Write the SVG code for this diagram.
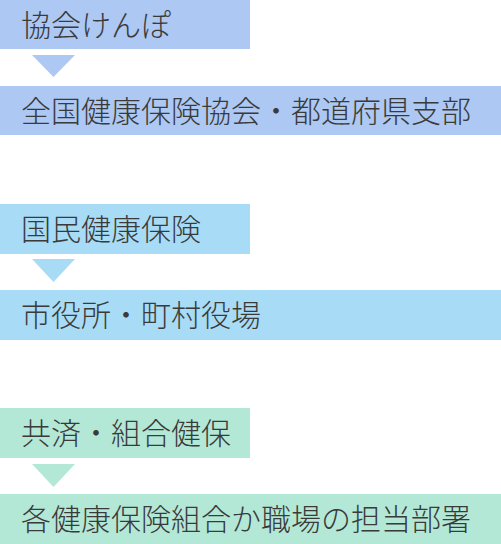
<svg xmlns="http://www.w3.org/2000/svg" width="501" height="544" viewBox="0 0 501 544">
<style>
.t{font-family:"Noto Sans CJK JP","Noto Sans CJK SC",sans-serif;font-size:30px;font-weight:300;fill:#3a3a3a}
.b{fill:#adc8f2}.c{fill:#a8dcf6}.g{fill:#b3e8d6}
</style>
<rect width="501" height="544" fill="#ffffff"/>
<g id="connectors">
<polygon class="b" points="32,55 75,55 53.5,77"/>
<polygon class="c" points="32,259 75,259 53.5,282"/>
<polygon class="g" points="32,464 75,464 53.5,487"/>
</g>
<g id="n1"><rect class="b" x="0" y="0" width="250" height="49"/><text class="t" x="21" y="35.5">協会けんぽ</text></g>
<g id="n2"><rect class="b" x="0" y="86" width="501" height="49"/><text class="t" x="21" y="121.5">全国健康保険協会・都道府県支部</text></g>
<g id="n3"><rect class="c" x="0" y="204" width="250" height="50"/><text class="t" x="21" y="240">国民健康保険</text></g>
<g id="n4"><rect class="c" x="0" y="290" width="501" height="50"/><text class="t" x="21" y="326">市役所・町村役場</text></g>
<g id="n5"><rect class="g" x="0" y="408" width="250" height="50"/><text class="t" x="21" y="444">共済・組合健保</text></g>
<g id="n6"><rect class="g" x="0" y="494" width="501" height="50"/><text class="t" x="21" y="530">各健康保険組合か職場の担当部署</text></g>
</svg>
